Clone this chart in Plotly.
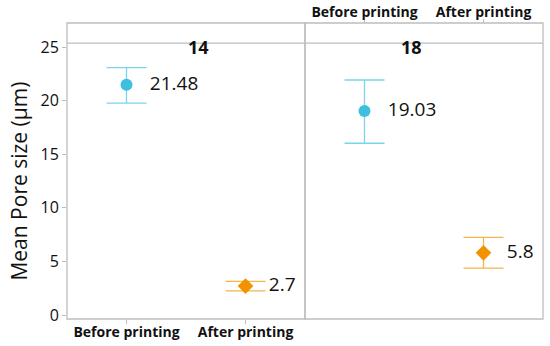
import plotly.graph_objects as go

groups = ["14", "18"]
stages = ["Before printing", "After printing"]

# mean pore size per group (Before, After)
means = {"14": [21.48, 2.7], "18": [19.03, 5.8]}
err_up = {"14": [1.6, 0.45], "18": [2.9, 1.45]}
err_down = {"14": [1.7, 0.45], "18": [3.0, 1.42]}
labels = {"14": ["21.48", "2.7"], "18": ["19.03", "5.8"]}

marker_cols = ["#3DBFE0", "#F39200"]
bar_cols = ["#7AD4EC", "#F9B34A"]
symbols = ["circle", "diamond"]

font = "Open Sans"
grid = "#BDBDBD"

fig = go.Figure()

for g_i, g in enumerate(groups):
    xa = "x" if g_i == 0 else "x2"
    for s_i, s in enumerate(stages):
        fig.add_trace(go.Scatter(
            x=[s], y=[means[g][s_i]],
            mode="markers+text",
            text=["   " + labels[g][s_i]],
            textposition="middle right",
            textfont=dict(size=19, color="#111111", family=font),
            marker=dict(symbol=symbols[s_i], size=12, color=marker_cols[s_i]),
            error_y=dict(type="data", symmetric=False,
                         array=[err_up[g][s_i]], arrayminus=[err_down[g][s_i]],
                         color=bar_cols[s_i], thickness=1.3, width=20),
            xaxis=xa, yaxis="y", showlegend=False, cliponaxis=False,
            hoverinfo="skip",
        ))

top = 0.932
fig.update_layout(
    width=550, height=346,
    margin=dict(l=67, r=7, t=23, b=27),
    plot_bgcolor="white", paper_bgcolor="white",
    font=dict(family=font, color="#111111"),
    xaxis=dict(domain=[0, 0.5], type="category", categoryorder="array",
               categoryarray=stages, range=[-0.5, 1.5], automargin=False,
               showgrid=False, zeroline=False, showline=False,
               ticks="outside", ticklen=4, tickcolor=grid, ticklabelstandoff=-4,
               tickfont=dict(size=14, family=font, weight="bold")),
    xaxis2=dict(domain=[0.5, 1], type="category", categoryorder="array",
                categoryarray=stages, range=[-0.5, 1.5], automargin=False,
                anchor="free", position=1.0, side="top",
                showgrid=False, zeroline=False, showline=False,
                ticks="outside", ticklen=4, tickcolor=grid, ticklabelstandoff=-4,
                tickfont=dict(size=14, family=font, weight="bold")),
    yaxis=dict(domain=[0, top], range=[-0.37, 25.37], automargin=False,
               tickvals=[0, 5, 10, 15, 20, 25],
               showgrid=False, zeroline=False, showline=False,
               ticks="outside", ticklen=4, tickcolor=grid,
               tickfont=dict(size=16, family=font, color="#111111"),
               title=dict(text="Mean Pore size (μm)", font=dict(size=21, family=font),
                          standoff=7)),
)

# panel frames and header strips
for x0, x1, g in [(0, 0.5, groups[0]), (0.5, 1, groups[1])]:
    fig.add_shape(type="rect", xref="paper", yref="paper", x0=x0, x1=x1, y0=0, y1=1,
                  line=dict(color=grid, width=1.3), fillcolor="rgba(0,0,0,0)")
    fig.add_shape(type="line", xref="paper", yref="paper", x0=x0, x1=x1, y0=top, y1=top,
                  line=dict(color=grid, width=1.3))
    fig.add_annotation(x=(x0 + x1) / 2, y=(top + 1) / 2, xref="paper", yref="paper",
                       text=g, showarrow=False,
                       font=dict(size=18, family=font, weight="bold", color="#111111"))

# drop the browser's default body margin so the figure sits at the page corner
fig.write_html("out.html", config={"displayModeBar": False},
               post_script="document.body.style.margin='0px';")
